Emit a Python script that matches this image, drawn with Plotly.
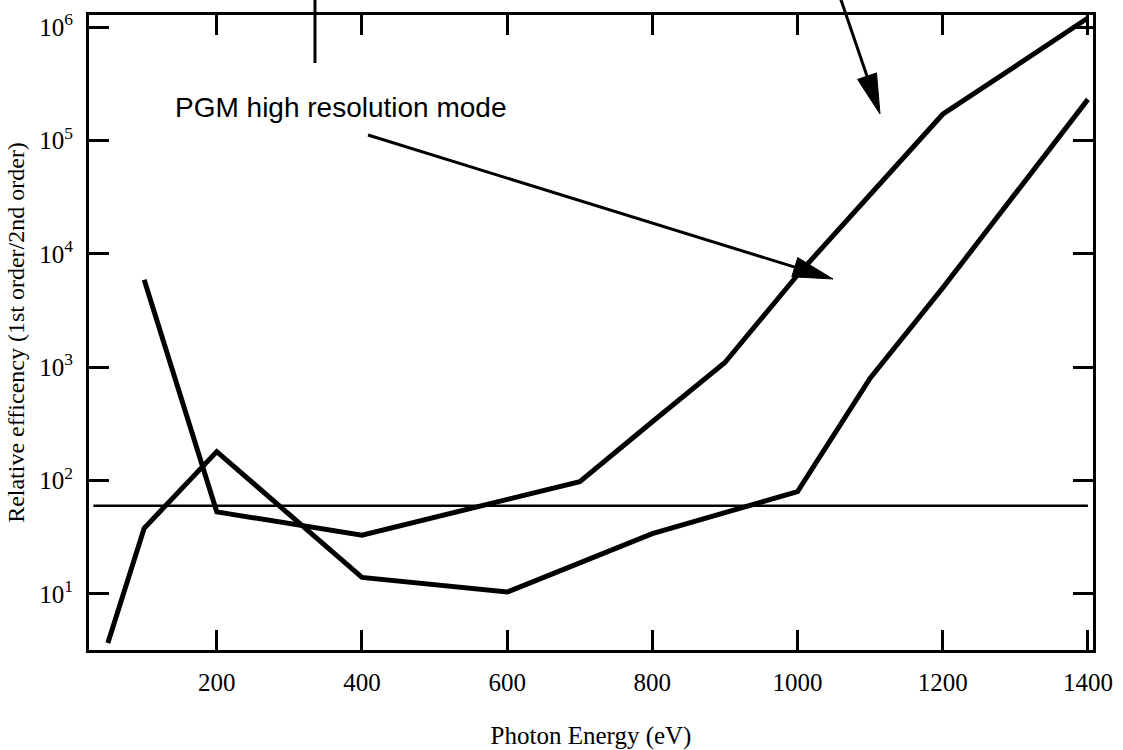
import math
import plotly.graph_objects as go

# ---- data ----
energy_a = [50, 100, 200, 400, 600, 800, 1000, 1100, 1200, 1400]
ratio_a = [3.7, 38, 180, 14, 10.4, 34, 80, 800, 5000, 2.3e5]

energy_b = [100, 200, 400, 700, 800, 900, 1000, 1200, 1400]
ratio_b = [5900, 53, 33, 98, 330, 1100, 6500, 1.7e5, 1.2e6]

level_x = [30, 1400]
level_y = [60, 60]

x_ticks = [200, 400, 600, 800, 1000, 1200, 1400]
y_exps = [1, 2, 3, 4, 5, 6]
y_tickvals = [10 ** e for e in y_exps]
y_ticktext = ["10<sup>%d</sup>" % e for e in y_exps]

annotation_text = "PGM high resolution mode"

# ---- layout geometry ----
W, H = 1123, 750
ML, MR, MT, MB = 89, 30, 15, 100
PW, PH = W - ML - MR, H - MT - MB


def px(xpix):
    return (xpix - ML) / PW


def py(ypix):
    return (H - MB - ypix) / PH


fig = go.Figure()
line_style = dict(color="black", width=5)
fig.add_trace(go.Scatter(x=energy_a, y=ratio_a, mode="lines", line=line_style,
                         name="PGM high resolution mode"))
fig.add_trace(go.Scatter(x=energy_b, y=ratio_b, mode="lines", line=line_style,
                         name="PGM other mode"))
fig.add_trace(go.Scatter(x=level_x, y=level_y, mode="lines",
                         line=dict(color="black", width=2.5), name="level"))

shapes = []


def arrow(tail, tip, head_len=40, half_w=10, width=3):
    dx, dy = tip[0] - tail[0], tip[1] - tail[1]
    L = math.hypot(dx, dy)
    ux, uy = dx / L, dy / L
    bx, by = tip[0] - head_len * ux, tip[1] - head_len * uy
    nx, ny = -uy, ux
    c1 = (bx + half_w * nx, by + half_w * ny)
    c2 = (bx - half_w * nx, by - half_w * ny)
    shapes.append(dict(type="line", xref="paper", yref="paper",
                       x0=px(tail[0]), y0=py(tail[1]), x1=px(bx), y1=py(by),
                       line=dict(color="black", width=width)))
    path = "M %f %f L %f %f L %f %f Z" % (px(tip[0]), py(tip[1]),
                                          px(c1[0]), py(c1[1]),
                                          px(c2[0]), py(c2[1]))
    shapes.append(dict(type="path", xref="paper", yref="paper", path=path,
                       fillcolor="black", line=dict(color="black", width=1)))


arrow((368, 135), (833, 279))
arrow((840, -3), (880, 114))
shapes.append(dict(type="line", xref="paper", yref="paper",
                   x0=px(315), y0=py(-3), x1=px(315), y1=py(63),
                   line=dict(color="black", width=3)))

fig.update_layout(
    width=W, height=H,
    margin=dict(l=ML, r=MR, t=MT, b=MB, autoexpand=False),
    paper_bgcolor="white", plot_bgcolor="white",
    showlegend=False,
    shapes=shapes,
    annotations=[dict(text=annotation_text, xref="paper", yref="paper",
                      x=px(173), y=py(107), xanchor="left", yanchor="middle",
                      showarrow=False,
                      font=dict(family="Liberation Sans", size=28, color="black"))],
    font=dict(family="Liberation Serif", color="black"),
)

fig.update_xaxes(
    range=[24, 1407], tickvals=x_ticks, ticks="inside", ticklen=20, tickwidth=3,
    tickcolor="black", showline=True, linewidth=3, linecolor="black",
    mirror="ticks", showgrid=False, zeroline=False, automargin=False,
    tickfont=dict(family="Liberation Serif", size=25, color="black"),
    ticklabelstandoff=8,
    title=dict(text="Photon Energy (eV)", standoff=36,
               font=dict(family="Liberation Serif", size=25, color="black")),
)
fig.update_yaxes(
    type="log", range=[0.506, 6.106], tickvals=y_tickvals, ticktext=y_ticktext,
    ticks="inside", ticklen=20, tickwidth=3, tickcolor="black",
    showline=True, linewidth=3, linecolor="black", mirror="ticks",
    showgrid=False, zeroline=False, automargin=False,
    tickfont=dict(family="Liberation Serif", size=25, color="black"),
    ticklabelstandoff=8,
    title=dict(text="Relative efficency (1st order/2nd order)", standoff=8,
               font=dict(family="Liberation Serif", size=24, color="black")),
)

fig.write_html("out.html")
